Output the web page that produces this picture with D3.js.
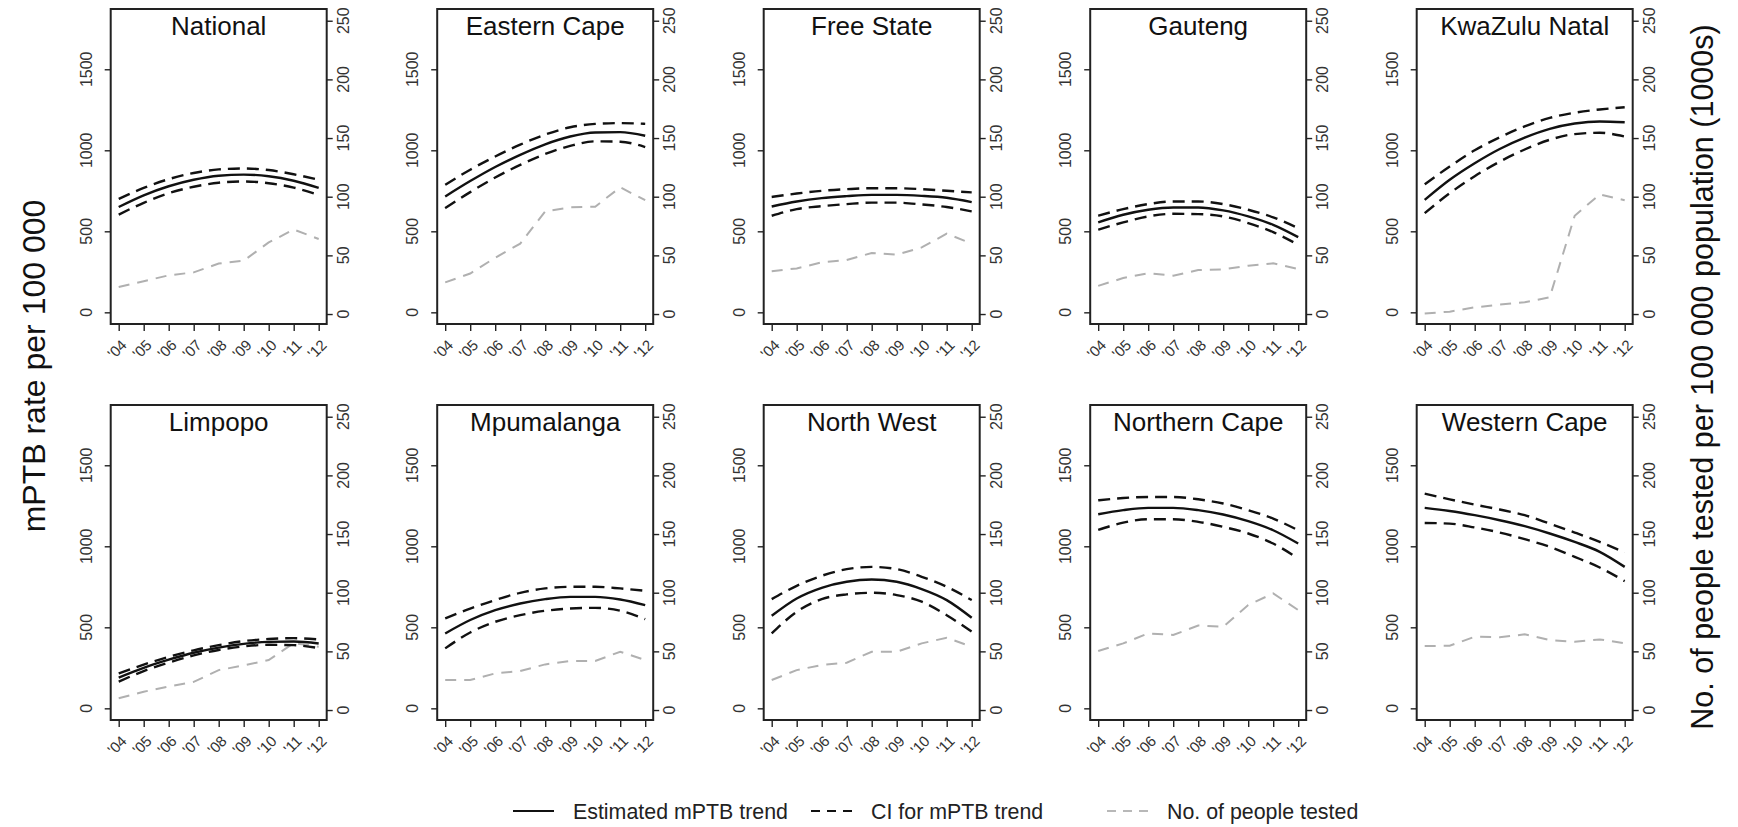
<!DOCTYPE html>
<html>
<head>
<meta charset="utf-8">
<script src="https://cdn.jsdelivr.net/npm/d3@7"></script>
<style>
  body { margin: 0; background: #fff; }
  svg text { font-family: "Liberation Sans", Arial, sans-serif; fill: #111; }
</style>
</head>
<body>
<div class="container"></div>
<script>
// data
var regions = ["National", "Eastern Cape", "Free State", "Gauteng", "KwaZulu Natal",
  "Limpopo", "Mpumalanga", "North West", "Northern Cape", "Western Cape"];
var years = [2004, 2005, 2006, 2007, 2008, 2009, 2010, 2011, 2012];
var yearLabels = ["'04", "'05", "'06", "'07", "'08", "'09", "'10", "'11", "'12"];
var leftTicks = [0, 500, 1000, 1500];
var rightTicks = [0, 50, 100, 150, 200, 250];

// estimated mPTB trend (per 100 000)
var trend = [
  [650, 722, 778, 818, 843, 850, 840, 812, 768],
  [715, 810, 897, 972, 1037, 1085, 1110, 1112, 1090],
  [653, 684, 705, 717, 725, 725, 719, 707, 680],
  [555, 602, 633, 647, 647, 629, 592, 540, 464],
  [694, 818, 920, 1008, 1078, 1132, 1165, 1178, 1173],
  [190, 250, 300, 343, 375, 398, 410, 412, 400],
  [462, 545, 606, 647, 674, 688, 688, 672, 637],
  [571, 678, 744, 781, 795, 781, 736, 668, 559],
  [1198, 1223, 1237, 1237, 1223, 1196, 1155, 1099, 1017],
  [1237, 1218, 1192, 1161, 1124, 1079, 1027, 966, 873]
];
var upperCI = [
  [700, 768, 822, 860, 882, 888, 878, 852, 818],
  [787, 880, 962, 1035, 1097, 1142, 1163, 1168, 1163],
  [712, 733, 750, 760, 766, 766, 760, 750, 740],
  [596, 637, 668, 684, 684, 668, 633, 586, 520],
  [790, 900, 1000, 1080, 1148, 1200, 1232, 1252, 1266],
  [215, 270, 318, 358, 390, 415, 428, 433, 425],
  [555, 616, 668, 713, 740, 750, 750, 740, 725],
  [674, 756, 818, 859, 873, 859, 812, 750, 668],
  [1284, 1298, 1304, 1304, 1290, 1264, 1223, 1171, 1099],
  [1325, 1290, 1257, 1227, 1192, 1140, 1085, 1027, 962]
];
var lowerCI = [
  [603, 676, 735, 775, 800, 808, 797, 770, 725],
  [643, 742, 832, 910, 977, 1027, 1055, 1053, 1020],
  [596, 637, 655, 668, 677, 677, 666, 650, 623],
  [510, 555, 592, 608, 606, 592, 551, 495, 417],
  [612, 735, 840, 930, 1005, 1065, 1100, 1108, 1085],
  [165, 230, 282, 327, 360, 382, 392, 390, 372],
  [370, 468, 534, 575, 602, 616, 620, 602, 551],
  [462, 596, 674, 703, 713, 699, 658, 575, 473],
  [1101, 1146, 1167, 1167, 1151, 1120, 1079, 1017, 925],
  [1144, 1140, 1116, 1085, 1044, 997, 935, 869, 785]
];
// people tested per 100 000 population (1000s)
var tested = [
  [23, 28, 33, 35.5, 43, 45.5, 61, 72, 64],
  [27, 34.5, 48, 60, 87.5, 91, 91.5, 108, 97],
  [36.4, 38.9, 44, 46, 52, 50.6, 56.8, 68.5, 60],
  [24, 30.7, 34.7, 32.7, 37.5, 38, 41.2, 43.2, 38.4],
  [0.5, 2, 5.7, 8, 10, 14.2, 83.8, 102, 97],
  [10, 15.6, 20, 24, 34, 38, 42.6, 57, 54],
  [25.6, 25.6, 31.2, 33.2, 38.9, 41.8, 41.8, 49.7, 42.6],
  [25.6, 34, 38.4, 40.3, 49.7, 49.7, 56.8, 61.6, 54],
  [50.3, 56.8, 65.3, 64, 72, 71, 89.5, 99.4, 85.2],
  [54.5, 54.8, 62.5, 62, 64.5, 59.7, 58.2, 60.2, 56.8]
];

var W = 1738, H = 827;
var boxW = 216, boxH = 315;
var colLeft = 110.7, colStep = 326.5;
var rowTop = [9, 405];

var svg = d3.select('.container').append('svg')
  .attr('width', W).attr('height', H);

var x = d3.scaleLinear().domain([2003.68, 2012.32]).range([0, boxW]);
var yL = d3.scaleLinear().domain([-72, 1872]).range([boxH, 0]);
var yR = d3.scaleLinear().domain([-8.5, 260]).range([boxH, 0]);

var smooth = function(vals){
  return d3.line().x(function(d, i){ return x(years[i]); })
    .y(function(d){ return yL(d); }).curve(d3.curveMonotoneX)(vals);
};
var greyLine = d3.line().x(function(d, i){ return x(years[i]); })
  .y(function(d){ return yR(d); });

regions.forEach(function(name, k){
  var col = k % 5, row = Math.floor(k / 5);
  var g = svg.append('g')
    .attr('transform', 'translate(' + (colLeft + col * colStep) + ',' + rowTop[row] + ')');

  // left axis
  var la = g.append('g').call(d3.axisLeft(yL).tickValues(leftTicks).tickSize(6).tickFormat(''));
  la.select('.domain').remove();
  la.selectAll('line').attr('stroke', '#222').attr('stroke-width', 1.4);
  g.selectAll('.ltick').data(leftTicks).enter().append('text')
    .attr('transform', function(d){ return 'translate(-19,' + yL(d) + ') rotate(-90)'; })
    .attr('text-anchor', 'middle').style('font-size', '16px').style('fill', '#333')
    .text(function(d){ return d; });

  // right axis
  var ra = g.append('g').attr('transform', 'translate(' + boxW + ',0)')
    .call(d3.axisRight(yR).tickValues(rightTicks).tickSize(6).tickFormat(''));
  ra.select('.domain').remove();
  ra.selectAll('line').attr('stroke', '#222').attr('stroke-width', 1.4);
  g.selectAll('.rtick').data(rightTicks).enter().append('text')
    .attr('transform', function(d){ return 'translate(' + (boxW + 22) + ',' + yR(d) + ') rotate(-90)'; })
    .attr('text-anchor', 'middle').style('font-size', '16px').style('fill', '#333')
    .text(function(d){ return d; });

  // bottom axis
  var ba = g.append('g').attr('transform', 'translate(0,' + boxH + ')')
    .call(d3.axisBottom(x).tickValues(years).tickSize(7).tickFormat(''));
  ba.select('.domain').remove();
  ba.selectAll('line').attr('stroke', '#222').attr('stroke-width', 1.4);
  g.selectAll('.xtick').data(years).enter().append('text')
    .attr('transform', function(d){ return 'translate(' + (x(d) + 9) + ',' + (boxH + 22) + ') rotate(-45)'; })
    .attr('text-anchor', 'end').style('font-size', '15px').style('fill', '#333')
    .text(function(d, i){ return yearLabels[i]; });

  // lines
  g.append('path').attr('d', greyLine(tested[k])).attr('fill', 'none')
    .attr('stroke', '#b0b0b0').attr('stroke-width', 2).attr('stroke-dasharray', '11,8');
  g.append('path').attr('d', smooth(upperCI[k])).attr('fill', 'none')
    .attr('stroke', '#111').attr('stroke-width', 2.4).attr('stroke-dasharray', '12,7');
  g.append('path').attr('d', smooth(lowerCI[k])).attr('fill', 'none')
    .attr('stroke', '#111').attr('stroke-width', 2.4).attr('stroke-dasharray', '12,7');
  g.append('path').attr('d', smooth(trend[k])).attr('fill', 'none')
    .attr('stroke', '#111').attr('stroke-width', 2.4);

  // box and title
  g.append('rect').attr('width', boxW).attr('height', boxH)
    .attr('fill', 'none').attr('stroke', '#222').attr('stroke-width', 2);
  g.append('text').attr('x', boxW / 2).attr('y', 26).attr('text-anchor', 'middle')
    .style('font-size', '26px').text(name);
});

// axis titles
svg.append('text').attr('transform', 'translate(45,366) rotate(-90)')
  .attr('text-anchor', 'middle').style('font-size', '32px').text('mPTB rate per 100 000');
svg.append('text').attr('transform', 'translate(1713,377) rotate(-90)')
  .attr('text-anchor', 'middle').style('font-size', '30.5px')
  .text('No. of people tested per 100 000 population (1000s)');

// legend
var legend = [
  {label: 'Estimated mPTB trend', x: 513, color: '#111', dash: null},
  {label: 'CI for mPTB trend', x: 811, color: '#111', dash: '9,7'},
  {label: 'No. of people tested', x: 1107, color: '#b8b8b8', dash: '9,7'}
];
var lg = svg.append('g');
legend.forEach(function(d){
  lg.append('line').attr('x1', d.x).attr('x2', d.x + 41).attr('y1', 811).attr('y2', 811)
    .attr('stroke', d.color).attr('stroke-width', 2).attr('stroke-dasharray', d.dash);
  lg.append('text').attr('transform', 'translate(' + (d.x + 60) + ',819) scale(0.93,1)')
    .style('font-size', '23px').style('fill', '#222').text(d.label);
});
</script>
</body>
</html>
